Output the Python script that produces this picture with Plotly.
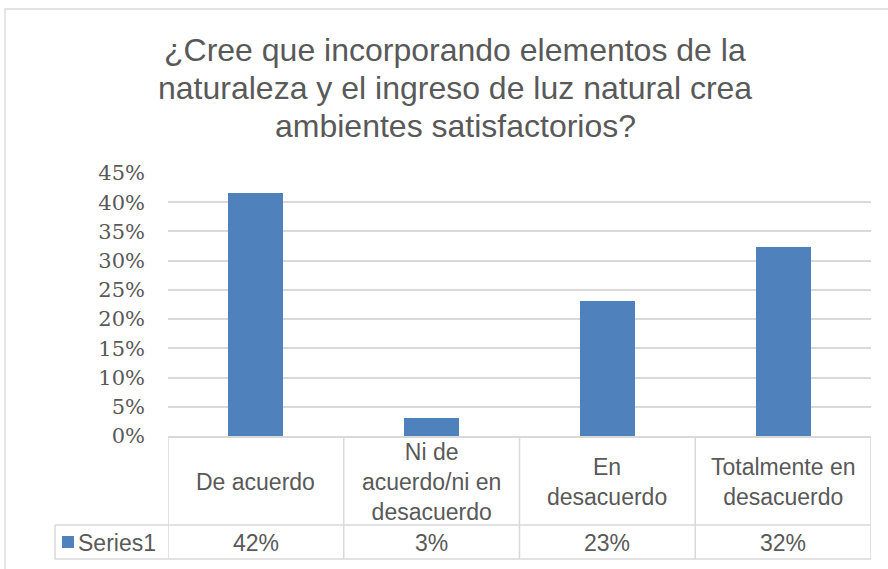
import plotly.graph_objects as go

categories = ["De acuerdo", "Ni de<br>acuerdo/ni en<br>desacuerdo", "En<br>desacuerdo", "Totalmente en<br>desacuerdo"]
values = [0.415, 0.031, 0.231, 0.323]
table_labels = ["42%", "3%", "23%", "32%"]
series_name = "Series1"
title_lines = ["¿Cree que incorporando elementos de la",
               "naturaleza y el ingreso de luz natural crea",
               "ambientes satisfactorios?"]

W, H = 888, 569
L, R, T, B = 168, 17, 173, 133
PH = H - T - B
PW = W - L - R

def py(p):
    return (H - B - p) / PH

def px(p):
    return (p - L) / PW

BAR = "#4f81bd"
GRID = "#d9d9d9"
TXT = "#595959"
FONT = "Liberation Sans, Arial"
xs = list(range(len(categories)))

fig = go.Figure()
fig.add_trace(go.Bar(x=xs, y=values, marker=dict(color=BAR, line=dict(width=0)), width=0.313,
                     showlegend=False, hoverinfo="skip"))

shapes = []
shapes.append(dict(type="rect", xref="paper", yref="paper", x0=px(5), x1=px(895), y0=py(9), y1=py(575),
                   line=dict(color=GRID, width=1.3), layer="below"))
y_row1 = py(525)
y_row2 = py(559)
bounds = [i - 0.5 for i in range(len(categories) + 1)]
for b in bounds:
    shapes.append(dict(type="line", xref="x", yref="paper", x0=b, x1=b, y0=0, y1=y_row2,
                       line=dict(color=GRID, width=1.5)))
for yy in (y_row1, y_row2):
    shapes.append(dict(type="line", xref="paper", yref="paper", x0=px(55), x1=1, y0=yy, y1=yy,
                       line=dict(color=GRID, width=1.5)))
shapes.append(dict(type="line", xref="paper", yref="paper", x0=px(55), x1=px(55), y0=y_row1, y1=y_row2,
                   line=dict(color=GRID, width=1.5)))
shapes.append(dict(type="rect", xref="paper", yref="paper", x0=px(62), x1=px(74), y0=py(536), y1=py(548),
                   fillcolor=BAR, line=dict(width=0)))

annotations = []
for i, line in enumerate(title_lines):
    annotations.append(dict(text=line, xref="paper", yref="paper", x=px(455), y=py(50 + 38 * i),
                            xanchor="center", yanchor="middle", showarrow=False,
                            font=dict(family=FONT, size=32, color=TXT)))
for x, c, lab in zip(xs, categories, table_labels):
    annotations.append(dict(text=c, xref="x", yref="paper", x=x, y=py(481.5), xanchor="center",
                            yanchor="middle", showarrow=False,
                            font=dict(family=FONT, size=23, color=TXT)))
    annotations.append(dict(text=lab, xref="x", yref="paper", x=x, y=py(543), xanchor="center",
                            yanchor="middle", showarrow=False,
                            font=dict(family=FONT, size=23, color=TXT)))
annotations.append(dict(text=series_name, xref="paper", yref="paper", x=px(76), y=py(543), xanchor="left",
                        yanchor="middle", showarrow=False,
                        font=dict(family=FONT, size=23, color=TXT)))

fig.update_layout(
    width=W, height=H,
    margin=dict(l=L, r=R, t=T, b=B),
    paper_bgcolor="white", plot_bgcolor="white",
    shapes=shapes, annotations=annotations,
    xaxis=dict(range=[-0.5, 3.5], showticklabels=False, showgrid=False, zeroline=False,
               showline=True, linecolor=GRID, linewidth=1.5, ticks=""),
    yaxis=dict(range=[0, 0.45], dtick=0.05, tick0=0, tickformat=".0%", showgrid=True,
               gridcolor=GRID, gridwidth=1.5, zeroline=False, ticks="", ticklabelstandoff=22,
               tickfont=dict(family="DejaVu Serif", size=21, color=TXT)),
    bargap=0,
)

fig.write_html("out.html", config={"displayModeBar": False},
               post_script="document.body.style.margin='0';")
